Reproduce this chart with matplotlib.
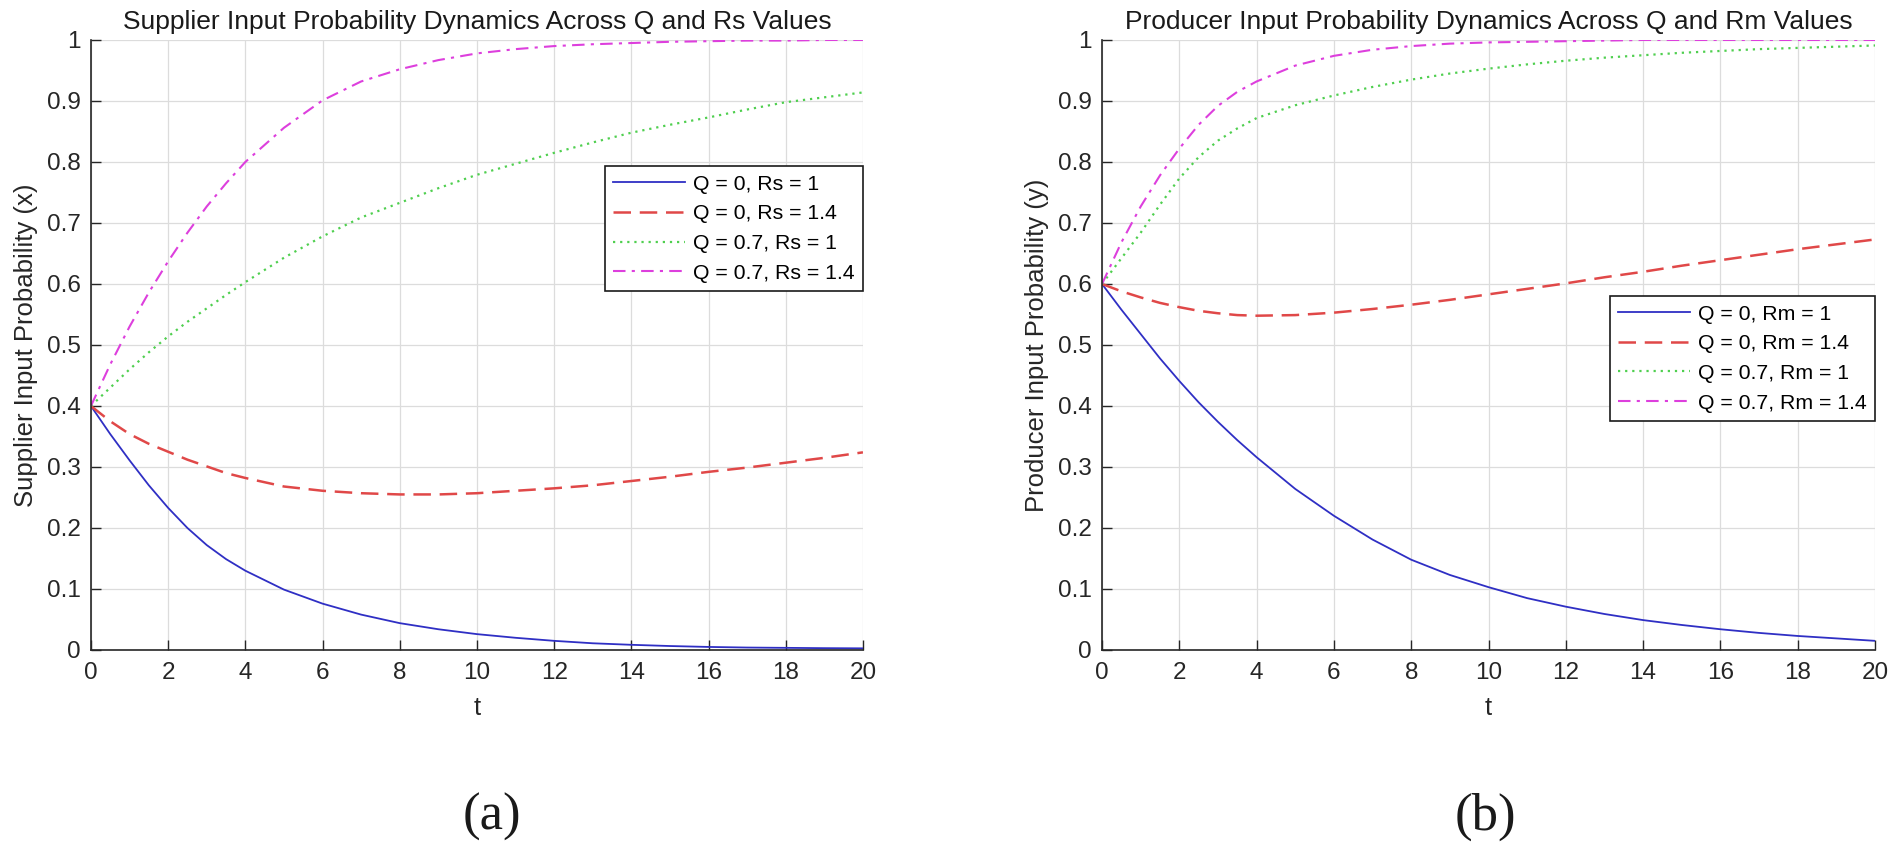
import matplotlib
matplotlib.use("Agg")
import matplotlib.pyplot as plt
from matplotlib.ticker import FuncFormatter

plt.rcParams['font.family'] = ['Liberation Sans', 'DejaVu Sans']

# time samples (denser at the start where the curves move fast)
t = [0, 0.5, 1, 1.5, 2, 2.5, 3, 3.5, 4, 5, 6, 7, 8, 9, 10,
     11, 12, 13, 14, 15, 16, 17, 18, 19, 20]

# (a) supplier input probability x
x_q0_rs1 = [0.400, 0.354, 0.311, 0.270, 0.233, 0.200, 0.172, 0.149, 0.130, 0.099,
            0.076, 0.058, 0.044, 0.034, 0.026, 0.020, 0.015, 0.011, 0.0085, 0.0065,
            0.0050, 0.0040, 0.0035, 0.0030, 0.0027]
x_q0_rs14 = [0.400, 0.375, 0.354, 0.338, 0.325, 0.312, 0.301, 0.290, 0.282, 0.268,
             0.261, 0.257, 0.255, 0.255, 0.257, 0.261, 0.265, 0.270, 0.277, 0.284,
             0.292, 0.299, 0.307, 0.315, 0.324]
x_q07_rs1 = [0.400, 0.430, 0.460, 0.488, 0.514, 0.538, 0.560, 0.582, 0.603, 0.643,
             0.678, 0.709, 0.733, 0.757, 0.779, 0.797, 0.815, 0.832, 0.848, 0.861,
             0.873, 0.886, 0.898, 0.906, 0.914]
x_q07_rs14 = [0.400, 0.468, 0.530, 0.586, 0.637, 0.684, 0.727, 0.765, 0.800, 0.856,
              0.901, 0.932, 0.952, 0.967, 0.978, 0.985, 0.990, 0.993, 0.995, 0.997,
              0.998, 0.999, 0.999, 1.000, 1.000]

# (b) producer input probability y
y_q0_rm1 = [0.600, 0.558, 0.518, 0.478, 0.441, 0.406, 0.374, 0.344, 0.316, 0.264,
            0.220, 0.181, 0.148, 0.123, 0.103, 0.085, 0.071, 0.059, 0.049, 0.041,
            0.034, 0.028, 0.023, 0.019, 0.015]
y_q0_rm14 = [0.600, 0.588, 0.578, 0.569, 0.562, 0.556, 0.552, 0.549, 0.548, 0.549,
             0.553, 0.559, 0.566, 0.574, 0.583, 0.592, 0.601, 0.611, 0.620, 0.630,
             0.639, 0.648, 0.657, 0.665, 0.673]
y_q07_rm1 = [0.600, 0.642, 0.684, 0.730, 0.773, 0.808, 0.835, 0.855, 0.872, 0.893,
             0.909, 0.923, 0.935, 0.945, 0.953, 0.960, 0.966, 0.971, 0.975, 0.979,
             0.982, 0.985, 0.987, 0.989, 0.991]
y_q07_rm14 = [0.600, 0.668, 0.727, 0.778, 0.822, 0.861, 0.892, 0.915, 0.932, 0.958,
              0.974, 0.984, 0.990, 0.994, 0.996, 0.997, 0.998, 0.999, 1.000, 1.000,
              1.000, 1.000, 1.000, 1.000, 1.000]

x_ticks = list(range(0, 21, 2))
y_ticks = [0, 0.1, 0.2, 0.3, 0.4, 0.5, 0.6, 0.7, 0.8, 0.9, 1]

styles = [
    dict(color='#2f2fc4', lw=1.3, ls='-'),
    dict(color='#e04848', lw=1.8, ls=(0, (7, 3.5))),
    dict(color='#4fcf4f', lw=1.6, ls=(0, (1, 2.2))),
    dict(color='#dd3fdd', lw=1.5, ls=(0, (6, 3, 1.5, 3))),
]


def draw_panel(ax, series, labels, title, ylabel, legend_top):
    for vals, lab, st in zip(series, labels, styles):
        ax.plot(t, vals, label=lab, **st)
    ax.set_xlim(0, 20)
    ax.set_ylim(0, 1)
    ax.set_xticks(x_ticks)
    ax.set_yticks(y_ticks)
    ax.yaxis.set_major_formatter(FuncFormatter(lambda v, p: f"{v:g}"))
    ax.grid(True, color='#dcdcdc', lw=0.9)
    ax.set_axisbelow(True)
    for side in ['top', 'right']:
        ax.spines[side].set_visible(False)
    for side in ['left', 'bottom']:
        ax.spines[side].set_color('#262626')
        ax.spines[side].set_linewidth(1.2)
    ax.tick_params(direction='in', length=7, width=1, colors='#262626',
                   labelsize=17.5, labelcolor='#262626')
    ax.tick_params(axis='x', pad=9)
    ax.tick_params(axis='y', pad=7.5)
    ax.set_title(title, fontsize=19, color='#1a1a1a', pad=8)
    ax.set_ylabel(ylabel, fontsize=18.5, color='#262626', labelpad=6)
    ax.set_xlabel('t', fontsize=18.5, color='#262626', labelpad=8)
    leg = ax.legend(loc='upper right', bbox_to_anchor=(1.0, legend_top),
                    borderaxespad=0, fontsize=15.3, fancybox=False,
                    framealpha=1, edgecolor='#1a1a1a', handlelength=3.4,
                    handletextpad=0.35, labelspacing=0.5, borderpad=0.4)
    leg.get_frame().set_linewidth(1.2)


fig = plt.figure(figsize=(19.02, 8.47), dpi=100)
ax_a = fig.add_axes([0.0478, 0.2326, 0.4059, 0.7202])
ax_b = fig.add_axes([0.5794, 0.2326, 0.4064, 0.7202])

draw_panel(ax_a, [x_q0_rs1, x_q0_rs14, x_q07_rs1, x_q07_rs14],
           ['Q = 0, Rs = 1', 'Q = 0, Rs = 1.4', 'Q = 0.7, Rs = 1', 'Q = 0.7, Rs = 1.4'],
           'Supplier Input Probability Dynamics Across Q and Rs Values',
           'Supplier Input Probability (x)', 0.793)
draw_panel(ax_b, [y_q0_rm1, y_q0_rm14, y_q07_rm1, y_q07_rm14],
           ['Q = 0, Rm = 1', 'Q = 0, Rm = 1.4', 'Q = 0.7, Rm = 1', 'Q = 0.7, Rm = 1.4'],
           'Producer Input Probability Dynamics Across Q and Rm Values',
           'Producer Input Probability (y)', 0.58)

fig.text(0.2587, 0.0354, '(a)', family='Liberation Serif', fontsize=38,
         ha='center', va='center', color='#1a1a1a')
fig.text(0.781, 0.0354, '(b)', family='Liberation Serif', fontsize=38,
         ha='center', va='center', color='#1a1a1a')

fig.savefig('out.png', dpi=100, facecolor='white')
